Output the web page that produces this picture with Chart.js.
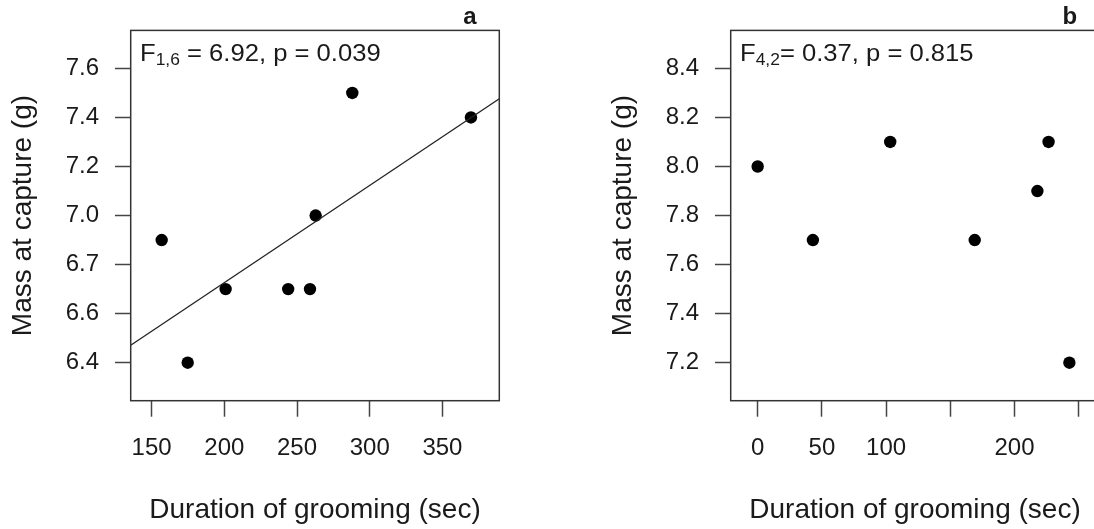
<!DOCTYPE html>
<html><head><meta charset="utf-8">
<script src="https://cdn.jsdelivr.net/npm/chart.js@4/dist/chart.umd.min.js"></script>
<style>
html,body{margin:0;padding:0;background:#fff;width:1094px;height:529px;overflow:hidden;position:relative}
#ca{position:absolute;left:0;top:0}
#cb{position:absolute;left:600px;top:0}
</style></head><body>
<canvas id="ca" width="547" height="529"></canvas>
<canvas id="cb" width="547" height="529"></canvas>
<script>
// ---- Panel a data ----
const durationA = [156.9, 174.8, 200.9, 243.9, 258.9, 262.8, 288.0, 369.6];
const massA     = [6.90, 6.40, 6.70, 6.70, 6.70, 7.00, 7.50, 7.40];
const fitA      = [5.933, 0.003967]; // intercept, slope of fitted line
const xTicksA = [150, 200, 250, 300, 350];
const xTickLabelsA = ['150', '200', '250', '300', '350'];
const yTicksA = [6.4, 6.6, 6.8, 7.0, 7.2, 7.4, 7.6];
const yTickLabelsA = ['6.4', '6.6', '6.7', '7.0', '7.2', '7.4', '7.6'];

// ---- Panel b data ----
const durationB = [0, 43, 103.2, 169, 217.8, 226.5, 242.7];
const massB     = [8.0, 7.7, 8.1, 7.7, 7.9, 8.1, 7.2];
const xTicksB = [0, 50, 100, 150, 200, 250];
const xTickLabelsB = ['0', '50', '100', '', '200', ''];
const yTicksB = [7.2, 7.4, 7.6, 7.8, 8.0, 8.2, 8.4];
const yTickLabelsB = ['7.2', '7.4', '7.6', '7.8', '8.0', '8.2', '8.4'];

const FAM = '"Liberation Sans", Arial, Helvetica, sans-serif';
const TXT = '#1a1a1a';

function panelPlugin(sub, rest, letter) {
  return {
    id: 'panel' + letter,
    afterDraw(chart) {
      const {ctx, chartArea: a} = chart;
      ctx.save();
      ctx.strokeStyle = '#333';
      ctx.lineWidth = 1.5;
      ctx.strokeRect(a.left, a.top, a.right - a.left, a.bottom - a.top);
      ctx.restore();

      ctx.save();
      ctx.fillStyle = TXT;
      ctx.textAlign = 'left';
      ctx.textBaseline = 'alphabetic';
      ctx.translate(a.left + 9.3, a.top + 31);
      ctx.scale(1.09, 1);
      ctx.font = '23.5px ' + FAM;
      ctx.fillText('F', 0, 0);
      let w = ctx.measureText('F').width;
      ctx.font = '16px ' + FAM;
      ctx.fillText(sub, w, 4);
      w += ctx.measureText(sub).width;
      ctx.font = '23.5px ' + FAM;
      ctx.fillText(rest, w, 0);
      ctx.restore();

      ctx.save();
      ctx.fillStyle = TXT;
      ctx.font = 'bold 24px ' + FAM;
      ctx.textAlign = 'center';
      ctx.textBaseline = 'alphabetic';
      ctx.fillText(letter, a.right - 29.5, 24);
      ctx.restore();
    }
  };
}

function makeChart(id, xs, ys, fit, xr, yr, xTicks, xLabels, yTicks, yLabels, sub, rest, letter) {
  const datasets = [{
    type: 'scatter',
    data: xs.map((x, i) => ({x: x, y: ys[i]})),
    backgroundColor: '#000',
    borderWidth: 0,
    pointRadius: 6.2,
    pointHoverRadius: 6.2,
    order: 1
  }];
  if (fit) {
    datasets.push({
      type: 'line',
      data: [xr[0], xr[1]].map(x => ({x: x, y: fit[0] + fit[1] * x})),
      borderColor: '#222',
      borderWidth: 1.3,
      pointRadius: 0,
      fill: false,
      order: 0
    });
  }
  return new Chart(document.getElementById(id), {
    data: {datasets},
    options: {
      responsive: false,
      animation: false,
      events: [],
      layout: {padding: {top: 29.5, right: 47.7, left: 0, bottom: 0}},
      plugins: {legend: {display: false}, tooltip: {enabled: false}},
      scales: {
        x: {
          type: 'linear', min: xr[0], max: xr[1],
          afterBuildTicks: s => { s.ticks = xTicks.map(v => ({value: v})); },
          afterFit: s => { s.height = 128.3; },
          ticks: {
            callback: (v, i) => xLabels[i],
            color: TXT, font: {size: 24, family: FAM},
            padding: 17.6, maxRotation: 0, autoSkip: false
          },
          grid: {drawOnChartArea: false, drawTicks: true, tickLength: 16, tickColor: '#444', tickWidth: 1.5},
          border: {display: false},
          title: {display: true, text: 'Duration of grooming (sec)', color: TXT,
                  font: {size: 28, family: FAM}, padding: {top: 0, bottom: 2.2}}
        },
        y: {
          type: 'linear', min: yr[0], max: yr[1],
          afterBuildTicks: s => { s.ticks = yTicks.map(v => ({value: v})); },
          afterFit: s => { s.width = 130.7; },
          ticks: {
            callback: (v, i) => yLabels[i],
            color: TXT, font: {size: 24, family: FAM},
            padding: 16, autoSkip: false
          },
          grid: {drawOnChartArea: false, drawTicks: true, tickLength: 15.7, tickColor: '#444', tickWidth: 1.5},
          border: {display: false},
          title: {display: true, text: 'Mass at capture (g)', color: TXT,
                  font: {size: 28, family: FAM}, padding: {top: 6.8, bottom: 0}}
        }
      }
    },
    plugins: [panelPlugin(sub, rest, letter)]
  });
}

makeChart('ca', durationA, massA, fitA, [135.6, 389.1], [6.245, 7.755],
  xTicksA, xTickLabelsA, yTicksA, yTickLabelsA, '1,6', ' = 6.92, p = 0.039', 'a');
makeChart('cb', durationB, massB, null, [-21.0, 266.0], [7.045, 8.555],
  xTicksB, xTickLabelsB, yTicksB, yTickLabelsB, '4,2', '= 0.37, p = 0.815', 'b');
</script>
</body></html>
